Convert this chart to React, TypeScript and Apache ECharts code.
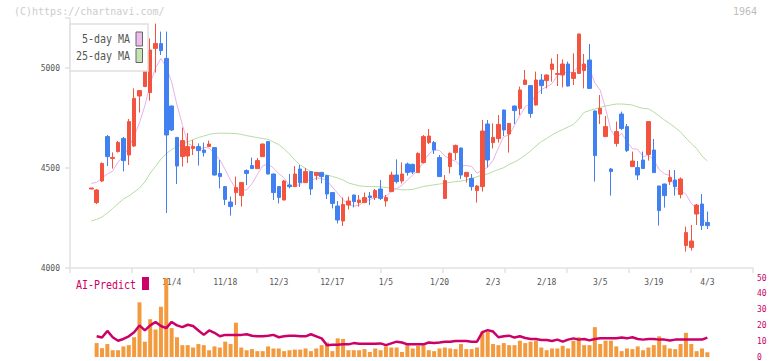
import React, { useEffect, useRef } from 'react';
import * as echarts from 'echarts';

const dates = [
  '10/10','10/14','10/15','10/16','10/17','10/20','10/21','10/22','10/23','10/24','10/27','10/28','10/29','10/30','10/31',
  '11/4','11/5','11/6','11/7','11/10','11/11','11/12','11/13','11/14','11/17','11/18','11/19','11/20','11/21','11/25','11/26','11/27','11/28',
  '12/1','12/2','12/3','12/4','12/5','12/8','12/9','12/10','12/11','12/12','12/15','12/16','12/17','12/18','12/19','12/22','12/23','12/24','12/25','12/26','12/29','12/30',
  '1/5','1/6','1/7','1/8','1/9','1/13','1/14','1/15','1/16','1/19','1/20','1/21','1/22','1/23','1/26','1/27','1/28','1/29','1/30',
  '2/2','2/3','2/4','2/5','2/6','2/9','2/10','2/12','2/13','2/16','2/17','2/18','2/19','2/20','2/24','2/25','2/26','2/27',
  '3/2','3/3','3/4','3/5','3/6','3/9','3/10','3/11','3/12','3/13','3/16','3/17','3/18','3/19','3/23','3/24','3/25','3/26','3/27','3/30','3/31',
  '4/1','4/2','4/3',
];
const futureSlots = ['f1','f2','f3','f4','f5','f6','f7','f8'];
const labelDates = ['11/4','11/18','12/3','12/17','1/5','1/20','2/3','2/18','3/5','3/19','4/3'];

const opens = [
  4395,4327,4435,4657,4548,4582,4648,4565,4610,4860,
  4907,4877,5098,5122,5048,4810,4653,4557,4560,4598,
  4607,4590,4607,4602,4473,4407,4330,4377,4362,4487,
  4512,4497,4557,4632,4470,4407,4340,4415,4407,4495,
  4427,4482,4462,4478,4462,4377,4310,4235,4315,4365,
  4327,4327,4360,4353,4395,4335,4382,4465,4435,4520,
  4518,4477,4527,4627,4627,4552,4348,4507,4577,4600,
  4457,4448,4387,4407,4720,4627,4647,4790,4670,4810,
  4798,4918,4912,4815,4940,4937,4993,4968,4965,5020,
  4948,4973,4987,5040,4785,4770,4657,4495,4623,4770,
  4707,4507,4502,4540,4568,4590,4410,4420,4432,4440,
  4368,4112,4103,4270,4320,4227,
];
const closes = [
  4400,4390,4523,4557,4553,4628,4537,4732,4848,4887,
  5052,5090,5123,5087,4665,4690,4510,4637,4607,4607,
  4587,4577,4620,4465,4457,4343,4307,4402,4428,4473,
  4497,4537,4620,4470,4377,4353,4435,4407,4470,4427,
  4482,4395,4478,4457,4370,4323,4240,4318,4335,4332,
  4340,4352,4353,4387,4348,4352,4465,4432,4470,4478,
  4480,4573,4657,4660,4590,4457,4437,4573,4613,4465,
  4478,4407,4410,4685,4540,4653,4718,4690,4723,4787,
  4890,4940,4773,4940,4912,4965,5020,4972,5020,4910,
  4977,5170,5020,4898,4562,4798,4707,4482,4682,4698,
  4587,4535,4465,4498,4732,4477,4287,4362,4452,4407,
  4445,4177,4135,4315,4212,4212,
];
const lows = [
  4395,4320,4430,4510,4497,4578,4483,4515,4605,4777,
  4905,4837,4977,5065,4275,4685,4420,4507,4525,4565,
  4512,4557,4605,4462,4398,4315,4262,4315,4307,4415,
  4495,4495,4555,4468,4340,4323,4338,4398,4405,4405,
  4425,4365,4440,4423,4345,4298,4223,4210,4293,4303,
  4307,4325,4315,4340,4340,4307,4380,4423,4423,4462,
  4470,4475,4522,4620,4570,4455,4345,4473,4540,4445,
  4427,4387,4327,4382,4503,4598,4627,4660,4577,4720,
  4765,4915,4752,4812,4870,4898,4932,4910,4903,4907,
  4915,4970,4898,4895,4432,4720,4655,4362,4607,4690,
  4580,4505,4440,4495,4537,4475,4212,4302,4415,4362,
  4348,4082,4087,4215,4190,4195,
];
const highs = [
  4400,4395,4528,4665,4578,4635,4655,4745,4898,4890,
  5055,5148,5222,5182,5182,4812,4655,4702,4675,4640,
  4623,4627,4637,4605,4540,4410,4357,4457,4430,4493,
  4552,4550,4622,4635,4472,4410,4440,4470,4510,4515,
  4500,4485,4480,4480,4465,4380,4335,4353,4357,4367,
  4365,4377,4380,4395,4440,4365,4482,4543,4528,4527,
  4522,4578,4665,4695,4635,4565,4465,4578,4617,4602,
  4480,4470,4415,4740,4740,4723,4765,4792,4725,4812,
  4907,4990,4915,4982,4970,4968,5048,5070,5043,5032,
  5073,5172,5070,5120,4787,4865,4760,4500,4732,4782,
  4720,4582,4535,4582,4735,4645,4412,4422,4490,4490,
  4453,4207,4215,4320,4370,4282,
];
// first four 5-day MA values (earlier closes not shown)
const ma5Head = [4423, 4428, 4450, 4470];
const ma25 = [
  4235,4243,4255,4275,4298,4322,4345,4360,4380,4400,
  4430,4475,4508,4545,4572,4592,4608,4620,4630,4642,
  4652,4660,4668,4673,4674,4674,4673,4672,4668,4662,
  4657,4652,4647,4643,4630,4617,4595,4570,4540,4515,
  4498,4482,4475,4470,4465,4458,4450,4440,4425,4418,
  4411,4408,4407,4407,4406,4403,4400,4395,4391,4391,
  4393,4400,4408,4412,4416,4420,4424,4428,4432,4435,
  4440,4448,4456,4465,4470,4482,4492,4502,4518,4530,
  4545,4565,4585,4610,4632,4648,4665,4680,4692,4705,
  4718,4745,4778,4787,4795,4803,4810,4815,4820,4820,
  4818,4815,4805,4798,4796,4780,4760,4740,4722,4702,
  4680,4650,4622,4597,4560,4535,
];
const volumes = [
  0,8.8,5.6,8.2,4.3,4.3,6.7,7.5,12.5,34.6,
  9.7,23.9,17.4,31.8,50,18.3,12.5,7.5,7.5,6,
  8.2,7.5,4.3,6.7,6,9.7,8.2,21.7,6,4.3,
  5,3.7,3.7,6.7,5.4,5.4,3.7,4.3,4.7,4.7,
  5.4,3.7,5.4,7.5,9.2,3.7,11.8,11.4,4.3,4.3,
  4.3,5,3.2,5.4,4.3,6.7,6,6,3.2,7.5,
  5.4,7.1,7.5,4.3,3.7,5.4,6,5.4,5,8.2,
  5,5,6,16.1,16.1,8.2,7.5,8.8,7.5,7.5,
  10.3,8.8,9.7,10.3,6,4.3,5.4,5.4,7.1,5.4,
  10.3,12.5,7.5,7.5,18.9,8.2,10.3,10.3,6.7,3.7,
  5.4,5,6.7,4.3,6,7.5,13.1,7.5,5.4,5,
  8.2,15.3,8.2,3.7,5.4,3,
];
const aiPredict = [
  null,13.1,12.3,16.5,12.5,10.3,11.4,13.1,15.7,20,
  16.8,20,22.2,19.6,18.3,22.2,20,18.9,20.4,19.6,
  16.8,14,16.8,15.3,13.1,14,14,14,14,14.4,
  13.5,13.1,13.1,13.5,14,12.5,13.1,13.5,13.5,13.1,
  13.1,14.4,13.1,11.8,7.5,7.7,7.7,8,8,8.8,
  8.4,8.4,8.4,8.4,8.6,7.5,8.6,9.7,9.2,8,
  8,8,8,9.2,8.8,9.2,9.7,9.7,10.1,10.1,
  10.1,9.7,9.7,15.7,17,16.1,12.5,13.1,13.5,12.3,
  13.1,12,11.4,11.4,10.8,10.8,10.1,11,9.7,11,
  11.8,11,11.4,10.5,11.4,11.8,11.8,11.8,11.8,12.3,
  11.8,12.5,11.4,11,11.4,11.4,11,11,10.5,11,
  11,11,11,11,11,12.3,
];

const RED = '#f2543f';
const BLUE = '#4080f0';
const ORANGE = '#f39a3f';
const MAG = '#cc0066';
const AXIS = '#e2e2e2';
const MONO = '"DejaVu Sans Mono", "Liberation Mono", monospace';

export default function App() {
  const ref = useRef<HTMLDivElement>(null);
  useEffect(() => {
    if (!ref.current) return;
    const chart = echarts.init(ref.current, undefined, { renderer: 'svg' });
    const cats = [...dates, ...futureSlots];
    const ohlc = dates.map((_, i) => [opens[i], closes[i], lows[i], highs[i]]);
    const ma5 = closes.map((_, i) => {
      if (i < 4) return ma5Head[i];
      let s = 0;
      for (let k = i - 4; k <= i; k++) s += closes[k];
      return Math.round((s / 5) * 10) / 10;
    });
    const candleLeft = 88.6;
    const candleRight = 19.1;
    chart.setOption({
      animation: false,
      backgroundColor: '#ffffff',
      grid: [
        { left: candleLeft, right: candleRight, top: 18, height: 250 },
        { left: 70, right: 19, top: 18, height: 250 },
        { left: candleLeft, right: candleRight, top: 278, height: 80 },
      ],
      xAxis: [
        {
          type: 'category', gridIndex: 0, data: cats, boundaryGap: true,
          axisLine: { show: false }, axisTick: { show: false }, splitLine: { show: false },
          axisLabel: {
            interval: (_i: number, v: string) => labelDates.includes(v),
            fontSize: 8, fontFamily: MONO, color: '#555', margin: 10,
          },
        },
        {
          type: 'value', gridIndex: 1, min: 0, max: 11, interval: 1,
          axisLine: { show: true, lineStyle: { color: AXIS, width: 1.5 } },
          axisTick: { show: true, length: 5, lineStyle: { color: AXIS, width: 1.5 } },
          axisLabel: { show: false }, splitLine: { show: false },
        },
        { type: 'category', gridIndex: 2, data: cats, boundaryGap: true, show: false },
      ],
      yAxis: [
        { type: 'value', gridIndex: 0, min: 4000, max: 5250, show: false, splitLine: { show: false } },
        {
          type: 'value', gridIndex: 1, min: 4000, max: 5250, interval: 500,
          axisLine: { show: true, lineStyle: { color: AXIS, width: 1.5 } },
          axisTick: { show: true, length: 5, lineStyle: { color: AXIS, width: 1.5 } },
          axisLabel: {
            fontSize: 8, fontFamily: MONO, color: '#555', margin: 10,
            formatter: (v: number) => (v % 500 === 0 ? String(v) : ''),
          },
          splitLine: { show: false },
        },
        { type: 'value', gridIndex: 2, min: 0, max: 50, show: false, splitLine: { show: false } },
        {
          type: 'value', gridIndex: 2, min: 0, max: 50, interval: 10, position: 'right',
          axisLine: { show: false }, axisTick: { show: false }, splitLine: { show: false },
          axisLabel: { fontSize: 8, fontFamily: MONO, color: MAG, margin: 4 },
        },
      ],
      series: [
        {
          name: '5-day MA', type: 'line', xAxisIndex: 0, yAxisIndex: 0, data: ma5,
          symbol: 'none', lineStyle: { color: '#e8b2e8', width: 1 }, z: 1,
        },
        {
          name: '25-day MA', type: 'line', xAxisIndex: 0, yAxisIndex: 0, data: ma25,
          symbol: 'none', lineStyle: { color: '#b6dca6', width: 1 }, z: 1,
        },
        {
          type: 'candlestick', xAxisIndex: 0, yAxisIndex: 0, data: ohlc, barWidth: 4, z: 2,
          itemStyle: { color: RED, color0: BLUE, borderColor: RED, borderColor0: BLUE, borderWidth: 1 },
        },
        {
          type: 'bar', xAxisIndex: 2, yAxisIndex: 2, data: volumes, barWidth: 4,
          itemStyle: { color: ORANGE },
        },
        {
          type: 'line', xAxisIndex: 2, yAxisIndex: 3, data: aiPredict, symbol: 'none',
          lineStyle: { color: MAG, width: 2.5 }, z: 3,
        },
      ],
      graphic: [
        {
          type: 'text', left: 14, top: 6, z: 10,
          style: { text: '(C)https://chartnavi.com/', fontSize: 10, fontFamily: MONO, fill: '#cccccc' },
        },
        {
          type: 'text', right: 15, top: 6, z: 10,
          style: { text: '1964', fontSize: 10, fontFamily: MONO, fill: '#bdbdbd' },
        },
        {
          type: 'rect', z: 10, shape: { x: 70, y: 24, width: 78, height: 47 },
          style: { fill: '#ffffff', stroke: '#e0e0e0', lineWidth: 1.5 },
        },
        {
          type: 'text', z: 11, x: 130, y: 39, scaleY: 1.2,
          style: { text: '5-day MA', fontSize: 10, fontFamily: MONO, fill: '#555', textAlign: 'right', textVerticalAlign: 'middle' },
        },
        {
          type: 'text', z: 11, x: 130, y: 56, scaleY: 1.2,
          style: { text: '25-day MA', fontSize: 10, fontFamily: MONO, fill: '#555', textAlign: 'right', textVerticalAlign: 'middle' },
        },
        {
          type: 'rect', z: 11, shape: { x: 136, y: 32, width: 6.5, height: 14 },
          style: { fill: '#ecbcec', stroke: '#666', lineWidth: 1 },
        },
        {
          type: 'rect', z: 11, shape: { x: 136, y: 48.5, width: 6.5, height: 14 },
          style: { fill: '#c4e4b4', stroke: '#666', lineWidth: 1 },
        },
        {
          type: 'text', z: 11, x: 76, y: 285, scaleY: 1.2,
          style: { text: 'AI-Predict', fontSize: 10, fontFamily: MONO, fill: MAG, textVerticalAlign: 'middle' },
        },
        {
          type: 'rect', z: 11, shape: { x: 142, y: 277, width: 7, height: 13 },
          style: { fill: MAG },
        },
      ],
    });
    return () => chart.dispose();
  }, []);
  return (
    <div
      ref={ref}
      style={{ position: 'fixed', left: 0, top: 0, width: 772, height: 361, background: '#fff' }}
    />
  );
}
